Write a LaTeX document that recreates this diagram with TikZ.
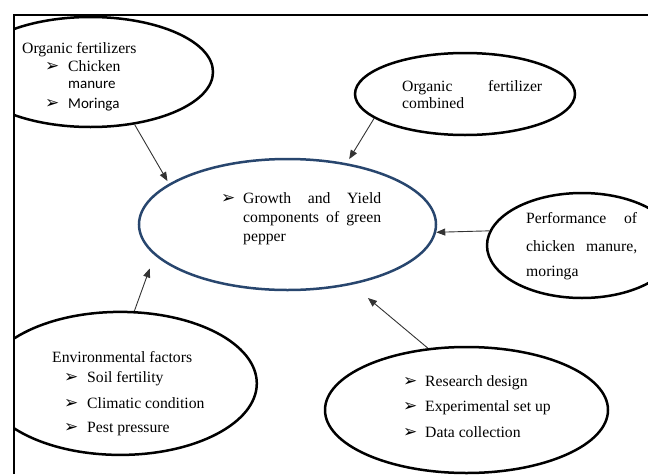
\documentclass[tikz,border=0pt]{standalone}
\usepackage{fontspec}
\setmainfont{Liberation Serif}
\newfontfamily\calib{Carlito}
\newfontfamily\djv{DejaVu Sans}
\usetikzlibrary{shapes.geometric,arrows.meta}
\definecolor{ovalblue}{RGB}{40,70,110}
\begin{document}
\begin{tikzpicture}[x=1pt,y=-1pt,
  oval/.style={ellipse, draw=black, line width=2.5pt, inner sep=0pt},
  txt/.style={anchor=base west, inner sep=0pt, font=\fontsize{15.7}{19}\selectfont},
  stxt/.style={anchor=base west, inner sep=0pt, font=\calib\fontsize{15}{18}\selectfont},
  blt/.style={anchor=base west, inner sep=0pt, font=\djv\fontsize{17}{19}\selectfont},
  conn/.style={draw=black!80, line width=0.9pt, -{Triangle[length=9pt,width=7pt]}}]
\useasboundingbox (0,0) rectangle (648,474);
\begin{scope}
\clip (14,15) rectangle (648,474);
\node[oval, minimum width=245pt, minimum height=110pt] (of) at (90.5,72) {};
\node[oval, minimum width=220pt, minimum height=82pt] (oc) at (465,94) {};
\node[oval, draw=ovalblue, minimum width=297pt, minimum height=131pt] (gy) at (287.5,224.5) {};
\node[oval, minimum width=190pt, minimum height=105pt] (pf) at (582,245.5) {};
\node[oval, minimum width=273pt, minimum height=143pt] (ef) at (120.3,383.4) {};
\node[oval, minimum width=283pt, minimum height=126pt] (rd) at (466.5,410) {};
\end{scope}
\draw[line width=1.2pt] (14,474) -- (14,15) -- (648,15);

% texts: organic fertilizers
\node[txt] (t1) at (22,53) {Organic fertilizers};
\node[blt] (b1) at (45,71) {➢};
\node[txt] (t2) at (68,71) {Chicken};
\node[stxt] (t3) at (68,88) {manure};
\node[blt] (b2) at (45,108) {➢};
\node[stxt] (t4) at (68,108) {Moringa};

% organic fertilizer combined
\node[txt] (t5) at (402,91.5) {\makebox[140pt][s]{Organic fertilizer}};
\node[txt] (t6) at (402,108) {combined};

% centre
\node[blt] (b3) at (221,203) {➢};
\node[txt] (t7) at (243,203) {\makebox[138pt][s]{Growth and Yield}};
\node[txt] (t8) at (243,222.5) {\makebox[138pt][s]{components of green}};
\node[txt] (t9) at (243,241) {pepper};

% performance
\node[txt] (t10) at (526,223) {\makebox[111pt][s]{Performance of}};
\node[txt] (t11) at (526,251.5) {\makebox[111pt][s]{chicken manure,}};
\node[txt] (t12) at (526,276) {moringa};

% environmental factors
\node[txt] (t13) at (52,362) {Environmental factors};
\node[blt] (b4) at (64,382) {➢};
\node[txt] (t14) at (87,382) {Soil fertility};
\node[blt] (b5) at (64,408) {➢};
\node[txt] (t15) at (87,408) {Climatic condition};
\node[blt] (b6) at (64,432) {➢};
\node[txt] (t16) at (87,432) {Pest pressure};

% research
\node[blt] (b7) at (403,386) {➢};
\node[txt] (t17) at (425,386) {Research design};
\node[blt] (b8) at (403,411.5) {➢};
\node[txt] (t18) at (425,411.5) {Experimental set up};
\node[blt] (b9) at (403,437) {➢};
\node[txt] (t19) at (425,437) {Data collection};

% connectors
\draw[conn, shorten >=3pt] (of.-50.7) -- (gy.161.3);
\draw[conn, shorten >=4.8pt] (oc.195.3) -- (gy.46.9);
\draw[conn] (pf.171.3) -- (gy.-3.7);
\draw[conn, shorten >=14.1pt] (ef.79.6) -- (gy.193.6);
\draw[conn, shorten >=20.7pt] (rd.122.6) -- (gy.-43.6);
\end{tikzpicture}
\end{document}
